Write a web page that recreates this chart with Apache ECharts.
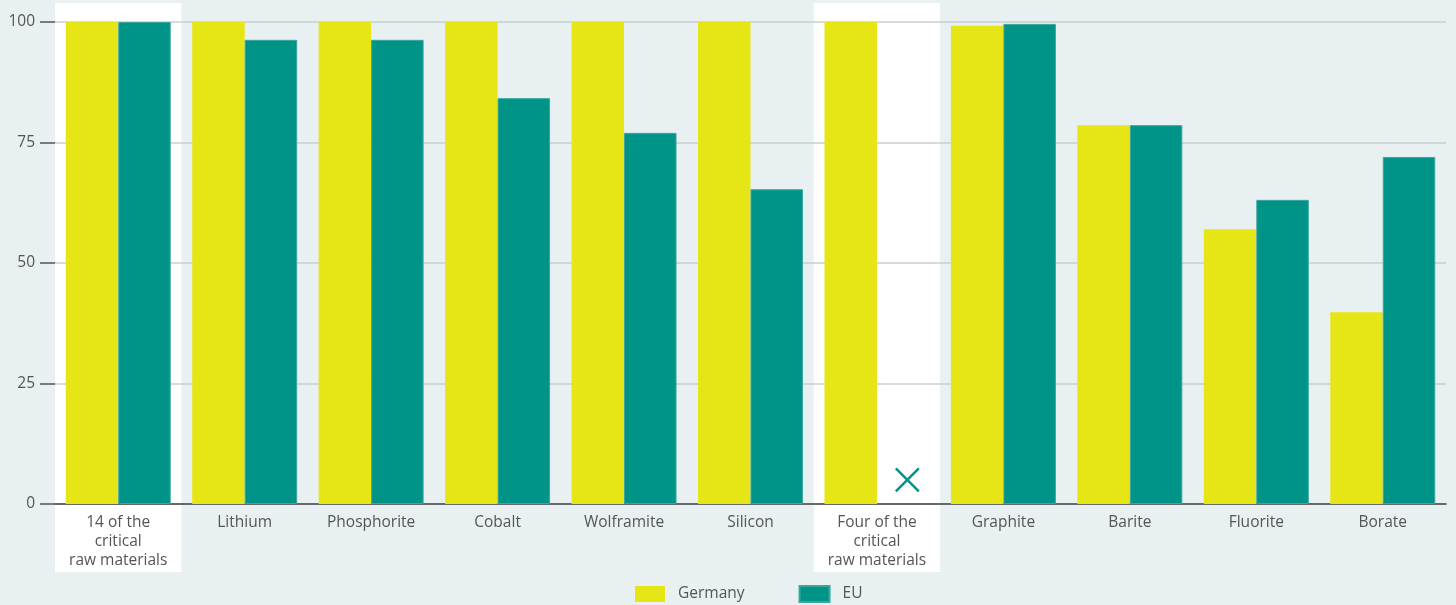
<!DOCTYPE html>
<html>
<head>
<meta charset="utf-8">
<script src="https://cdn.jsdelivr.net/npm/echarts@6/dist/echarts.min.js"></script>
<style>
  html, body { margin: 0; padding: 0; background: #e8f0f1; }
  #chart { width: 1456px; height: 605px; }
</style>
</head>
<body>
<div id="chart"></div>
<script>
var categories = ['14 of the\ncritical\nraw materials', 'Lithium', 'Phosphorite', 'Cobalt', 'Wolframite', 'Silicon',
  'Four of the\ncritical\nraw materials', 'Graphite', 'Barite', 'Fluorite', 'Borate'];
var germany = [100, 100, 100, 100, 100, 100, 100, 99.2, 78.6, 57, 39.8];
var eu = [100, 96.3, 96.3, 84.2, 77, 65.3, null, 99.6, 78.6, 63.1, 72];
// categories drawn on a white panel
var highlighted = [0, 6];
// EU has no value here, marked with a cross
var euMissing = [[6, 5]];

var yellow = '#e6e616';
var teal = '#009387';
var textColor = '#555';

var myChart = echarts.init(document.getElementById('chart'));

var option = {
  backgroundColor: '#e8f0f1',
  textStyle: { fontFamily: 'Open Sans', color: textColor },
  grid: { left: 55, right: 10, top: 22, bottom: 101 },
  legend: {
    left: 635,
    top: 585,
    padding: 0,
    itemWidth: 30,
    itemHeight: 16,
    itemGap: 54,
    icon: 'rect',
    data: ['Germany', 'EU'],
    textStyle: { fontSize: 15.5, color: textColor, fontFamily: 'Open Sans', padding: [0, 0, 0, 8] }
  },
  xAxis: {
    type: 'category',
    data: categories,
    axisTick: { show: false },
    axisLine: { lineStyle: { color: '#444', width: 1.5 } },
    axisLabel: {
      interval: 0,
      margin: 9,
      fontSize: 15.5,
      lineHeight: 19,
      color: textColor,
      fontFamily: 'Open Sans'
    }
  },
  yAxis: {
    type: 'value',
    min: 0,
    max: 100,
    interval: 25,
    axisLine: { show: false },
    axisTick: { show: true, length: 15, lineStyle: { color: '#555', width: 1.5 } },
    axisLabel: { margin: 20, fontSize: 15.5, color: textColor, fontFamily: 'Open Sans' },
    splitLine: { lineStyle: { color: '#c9cfd1', width: 1.5 } }
  },
  series: [
    {
      type: 'custom',
      z: -1,
      silent: true,
      data: highlighted.map(function (i) { return [categories[i], 100]; }),
      encode: { x: 0, y: 1 },
      renderItem: function (params, api) {
        var band = api.size([1, 0])[0];
        var top = api.coord([api.value(0), api.value(1)]);
        var base = api.coord([api.value(0), 0]);
        return {
          type: 'rect',
          shape: { x: top[0] - band / 2, y: top[1] - 19, width: band, height: base[1] - top[1] + 19 + 68 },
          style: { fill: '#ffffff' }
        };
      }
    },
    {
      name: 'Germany',
      type: 'bar',
      data: germany,
      barGap: '0%',
      barCategoryGap: '17%',
      itemStyle: { color: yellow },
      emphasis: { disabled: true }
    },
    {
      name: 'EU',
      type: 'bar',
      data: eu,
      itemStyle: { color: teal, borderColor: '#3aa79d', borderWidth: 1 },
      emphasis: { disabled: true }
    },
    {
      type: 'custom',
      silent: true,
      data: euMissing.map(function (d) { return [categories[d[0]], d[1]]; }),
      encode: { x: 0, y: 1 },
      renderItem: function (params, api) {
        var band = api.size([1, 0])[0];
        var p = api.coord([api.value(0), api.value(1)]);
        var cx = p[0] + band * 0.24;
        var cy = p[1];
        var h = 11.5;
        var st = { stroke: teal, lineWidth: 2.5 };
        return {
          type: 'group',
          children: [
            { type: 'line', shape: { x1: cx - h, y1: cy - h, x2: cx + h, y2: cy + h }, style: st },
            { type: 'line', shape: { x1: cx - h, y1: cy + h, x2: cx + h, y2: cy - h }, style: st }
          ]
        };
      }
    }
  ]
};
myChart.setOption(option);
</script>
</body>
</html>
